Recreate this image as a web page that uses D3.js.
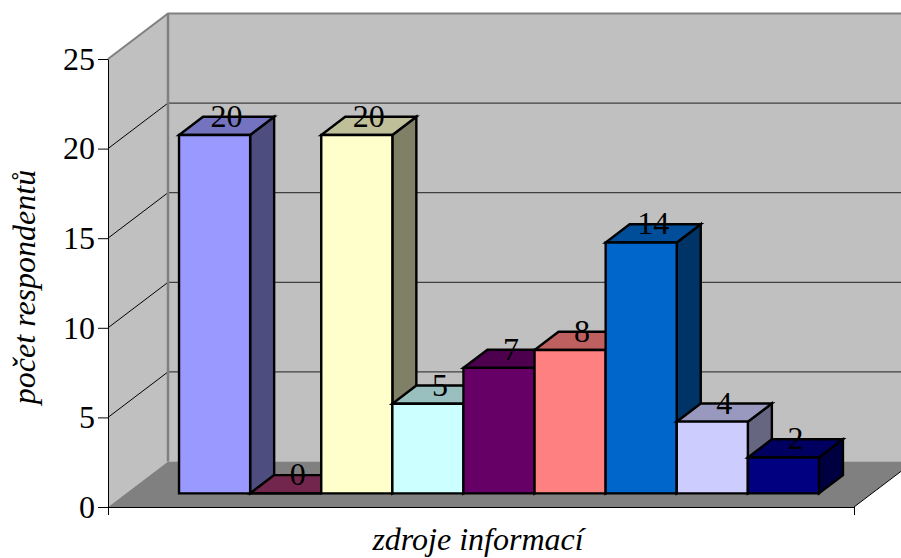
<!DOCTYPE html>
<html>
<head>
<meta charset="utf-8">
<script src="https://cdn.jsdelivr.net/npm/d3@7/dist/d3.min.js"></script>
<style>
  html, body { margin: 0; padding: 0; background: #fff; }
  svg { display: block; }
  text { font-family: "Liberation Serif", serif; fill: #000; }
</style>
</head>
<body>
<div id="chart"></div>
<script>
let categories = ["1", "2", "3", "4", "5", "6", "7", "8", "9"];
let values = [20, 0, 20, 5, 7, 8, 14, 4, 2];
let barColors = ["#9999ff", "#993366", "#ffffcc", "#ccffff", "#660066", "#ff8080", "#0066cc", "#ccccff", "#000080"];
let yTicks = [0, 5, 10, 15, 20, 25];
let yTitle = "počet respondentů";
let xTitle = "zdroje informací";

let width = 901, height = 558;

let x = d3.scaleBand()
  .domain(categories)
  .range([108, 854])
  .paddingInner(0)
  .paddingOuter(0.746);

let y = d3.scaleLinear().domain([0, 25]).range([507, 59]);

// oblique projection, depth goes 0 (front) to 1 (back wall)
let depthX = d3.scaleLinear().domain([0, 1]).range([0, 60]);
let depthY = d3.scaleLinear().domain([0, 1]).range([0, -45.5]);
let barFront = 0.3, barBack = 0.7;

function pt(px, v, d) {
  return [px + depthX(d), y(v) + depthY(d)];
}
function poly(points) {
  return points.map(p => p.join(",")).join(" ");
}

let svg = d3.select("#chart").append("svg")
  .attr("width", width)
  .attr("height", height);

let x0 = x.range()[0], x1 = x.range()[1];

// walls and floor
svg.append("polygon")
  .attr("points", poly([pt(x0, 0, 0), pt(x0, 0, 1), pt(x0, 25, 1), pt(x0, 25, 0)]))
  .attr("fill", "#c0c0c0");
svg.append("polygon")
  .attr("points", poly([pt(x0, 0, 1), pt(x1, 0, 1), pt(x1, 25, 1), pt(x0, 25, 1)]))
  .attr("fill", "#c0c0c0");
svg.append("polygon")
  .attr("points", poly([pt(x0, 0, 0), pt(x1, 0, 0), pt(x1, 0, 1), pt(x0, 0, 1)]))
  .attr("fill", "#808080");

// gridlines
let gridTicks = yTicks.filter(d => d > 0 && d < 25);
svg.selectAll(".grid-side")
  .data(gridTicks)
  .enter().append("line")
  .attr("class", "grid-side")
  .attr("x1", pt(x0, 0, 0)[0]).attr("x2", pt(x0, 0, 1)[0])
  .attr("y1", d => pt(x0, d, 0)[1]).attr("y2", d => pt(x0, d, 1)[1])
  .attr("stroke", "#000").attr("stroke-width", 1);
svg.selectAll(".grid-back")
  .data(gridTicks)
  .enter().append("line")
  .attr("class", "grid-back")
  .attr("x1", pt(x0, 0, 1)[0]).attr("x2", pt(x1, 0, 1)[0])
  .attr("y1", d => pt(x0, d, 1)[1]).attr("y2", d => pt(x0, d, 1)[1])
  .attr("stroke", "#404040").attr("stroke-width", 1.2);

// wall borders
svg.append("polyline")
  .attr("points", poly([pt(x0, 25, 0), pt(x0, 25, 1), pt(x1, 25, 1)]))
  .attr("fill", "none").attr("stroke", "#808080").attr("stroke-width", 2);
svg.append("line")
  .attr("x1", pt(x0, 0, 1)[0]).attr("x2", pt(x0, 0, 1)[0])
  .attr("y1", pt(x0, 0, 1)[1]).attr("y2", pt(x0, 25, 1)[1])
  .attr("stroke", "#808080").attr("stroke-width", 2.5);
svg.append("line")
  .attr("x1", pt(x1, 0, 0)[0]).attr("y1", pt(x1, 0, 0)[1])
  .attr("x2", pt(x1, 0, 1)[0]).attr("y2", pt(x1, 0, 1)[1])
  .attr("stroke", "#000").attr("stroke-width", 1);

// axes
let yAxis = svg.append("g")
  .attr("transform", "translate(" + x0 + ",0)")
  .call(d3.axisLeft(y).tickValues(yTicks).tickSize(10).tickSizeOuter(0).tickPadding(3));
yAxis.selectAll("text").style("font-size", "32px").style("font-family", "'Liberation Serif', serif");

svg.append("g")
  .attr("transform", "translate(0," + y(0) + ")")
  .call(d3.axisBottom(d3.scaleLinear().domain([x0, x1]).range([x0, x1]))
    .tickValues([x0, x1]).tickSize(8).tickSizeOuter(0).tickFormat(""));

// bars, left to right so the next one covers the side of the previous
let bars = svg.selectAll(".bar")
  .data(categories.map((c, i) => ({category: c, value: values[i], color: barColors[i]})))
  .enter().append("g")
  .attr("class", "bar")
  .attr("stroke", "#000")
  .attr("stroke-width", 2.4)
  .attr("stroke-linejoin", "miter");

bars.append("polygon")
  .attr("points", d => {
    let l = x(d.category) + x.bandwidth();
    return poly([pt(l, 0, barFront), pt(l, 0, barBack), pt(l, d.value, barBack), pt(l, d.value, barFront)]);
  })
  .attr("fill", d => shade(d.color, 0.5));

bars.append("polygon")
  .attr("points", d => {
    let l = x(d.category), r = l + x.bandwidth();
    return poly([pt(l, d.value, barFront), pt(r, d.value, barFront), pt(r, d.value, barBack), pt(l, d.value, barBack)]);
  })
  .attr("fill", d => shade(d.color, 0.75));

bars.append("polygon")
  .attr("points", d => {
    let l = x(d.category), r = l + x.bandwidth();
    return poly([pt(l, 0, barFront), pt(r, 0, barFront), pt(r, d.value, barFront), pt(l, d.value, barFront)]);
  })
  .attr("fill", d => d.color);

// value labels
svg.selectAll(".value")
  .data(categories.map((c, i) => ({category: c, value: values[i]})))
  .enter().append("text")
  .attr("class", "value")
  .attr("x", d => pt(x(d.category) + x.bandwidth() / 2, d.value, (barFront + barBack) / 2)[0])
  .attr("y", d => pt(0, d.value, (barFront + barBack) / 2)[1] + 1)
  .attr("text-anchor", "middle")
  .style("font-size", "32px")
  .text(d => d.value);

// titles
svg.append("text")
  .attr("x", 478).attr("y", 550)
  .attr("text-anchor", "middle")
  .style("font-size", "32px").style("font-style", "italic")
  .text(xTitle);

svg.append("text")
  .attr("transform", "translate(35,287) rotate(-90)")
  .attr("text-anchor", "middle")
  .style("font-size", "32px").style("font-style", "italic")
  .text(yTitle);

function shade(color, k) {
  let c = d3.rgb(color);
  return d3.rgb(c.r * k, c.g * k, c.b * k).formatHex();
}
</script>
</body>
</html>
